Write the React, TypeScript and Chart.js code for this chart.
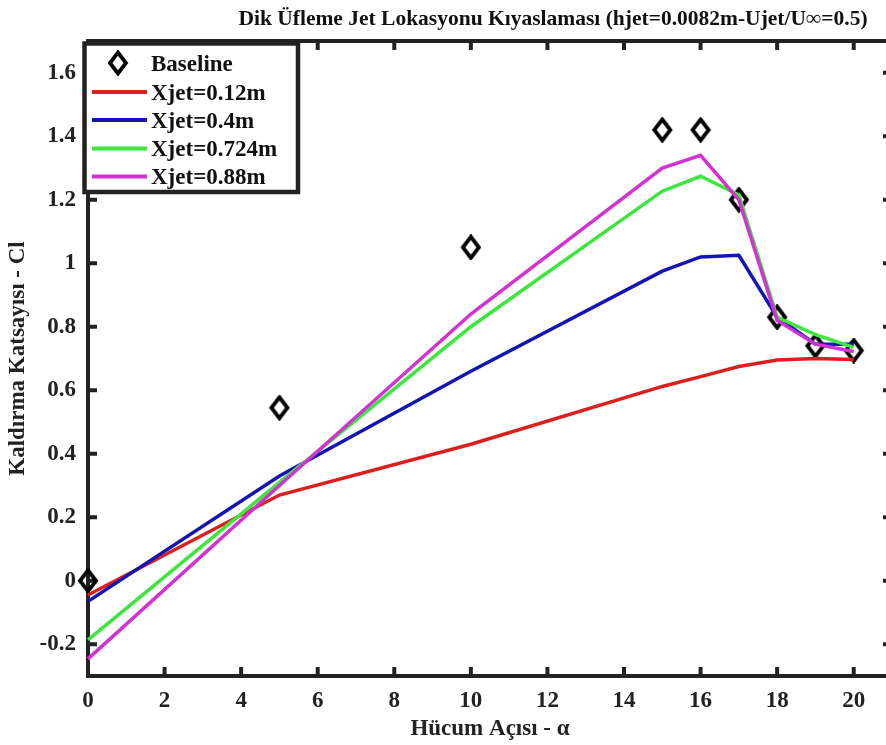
import React, { useEffect, useRef } from 'react';
import { Chart, registerables } from 'chart.js';

Chart.register(...registerables);

// ---- data ----
const alpha = [0, 5, 10, 15, 16, 17, 18, 19, 20];
const baseline = [0, 0.545, 1.05, 1.42, 1.42, 1.2, 0.83, 0.74, 0.725];
const xjet012 = [-0.045, 0.27, 0.43, 0.612, 0.643, 0.675, 0.695, 0.7, 0.697];
const xjet04 = [-0.065, 0.33, 0.66, 0.975, 1.02, 1.025, 0.83, 0.745, 0.745];
const xjet0724 = [-0.186, 0.31, 0.8, 1.227, 1.274, 1.215, 0.83, 0.775, 0.735];
const xjet088 = [-0.246, 0.3, 0.84, 1.3, 1.34, 1.2, 0.82, 0.745, 0.722];

const seriesLabels = ['Baseline', 'Xjet=0.12m', 'Xjet=0.4m', 'Xjet=0.724m', 'Xjet=0.88m'];
const seriesColors = ['#000000', '#dc1e1e', '#1414b4', '#3ce63c', '#d232d2'];

const xTicks = [0, 2, 4, 6, 8, 10, 12, 14, 16, 18, 20];
const yTicks = [-0.2, 0, 0.2, 0.4, 0.6, 0.8, 1, 1.2, 1.4, 1.6];
const xRange = [0, 21];
const yRange = [-0.3, 1.7];

const titleText = 'Dik Üfleme Jet Lokasyonu Kıyaslaması (hjet=0.0082m-Ujet/U∞=0.5)';
const xLabel = 'Hücum Açısı - α';
const yLabel = 'Kaldırma Katsayısı - Cl';

const FONT = '"Liberation Serif", "Times New Roman", serif';
const AXIS = '#222222';

function makeDiamond(): HTMLCanvasElement {
  const c = document.createElement('canvas');
  c.width = 22;
  c.height = 26;
  const g = c.getContext('2d')!;
  g.strokeStyle = '#000';
  g.lineWidth = 3.8;
  g.lineJoin = 'miter';
  g.beginPath();
  g.moveTo(11, 2.5);
  g.lineTo(19, 13);
  g.lineTo(11, 23.5);
  g.lineTo(3, 13);
  g.closePath();
  g.stroke();
  return c;
}

export default function App() {
  const ref = useRef<HTMLCanvasElement | null>(null);

  useEffect(() => {
    const canvas = ref.current;
    if (!canvas) return;
    const diamond = makeDiamond();
    const toPts = (ys: number[]) => alpha.map((a, i) => ({ x: a, y: ys[i] }));

    const decor = {
      id: 'decor',
      beforeDraw(chart: any) {
        const { ctx, width, height } = chart;
        ctx.save();
        ctx.fillStyle = '#ffffff';
        ctx.fillRect(0, 0, width, height);
        ctx.restore();
      },
      beforeDatasetsDraw(chart: any) {
        const { ctx, chartArea: a, scales } = chart;
        const xs = scales.x;
        const ys = scales.y;
        const tl = 9;
        ctx.save();
        ctx.strokeStyle = AXIS;
        ctx.lineWidth = 4;
        ctx.beginPath();
        xTicks.forEach((v) => {
          const px = xs.getPixelForValue(v);
          ctx.moveTo(px, a.bottom);
          ctx.lineTo(px, a.bottom - tl);
          ctx.moveTo(px, a.top);
          ctx.lineTo(px, a.top + tl);
        });
        yTicks.forEach((v) => {
          const py = ys.getPixelForValue(v);
          ctx.moveTo(a.left, py);
          ctx.lineTo(a.left + tl, py);
          ctx.moveTo(a.right, py);
          ctx.lineTo(a.right - tl, py);
        });
        ctx.stroke();
        ctx.strokeRect(a.left, a.top, a.right - a.left, a.bottom - a.top);
        ctx.restore();
      },
      afterDraw(chart: any) {
        const { ctx } = chart;
        ctx.save();
        // title
        ctx.fillStyle = '#111';
        ctx.font = `bold 21.5px ${FONT}`;
        ctx.textAlign = 'center';
        ctx.textBaseline = 'alphabetic';
        ctx.fillText(titleText, 553, 25);

        // legend
        const bx = 84.5, by = 43.5, bw = 213.5, bh = 148.5;
        ctx.fillStyle = '#fff';
        ctx.fillRect(bx, by, bw, bh);
        ctx.strokeStyle = AXIS;
        ctx.lineWidth = 4.5;
        ctx.strokeRect(bx, by, bw, bh);
        const rowY = [63, 92, 120, 148.5, 176.5];
        ctx.font = `bold 23px ${FONT}`;
        ctx.textAlign = 'left';
        chart.data.datasets.forEach((ds: any, i: number) => {
          const y = rowY[i];
          if (i === 0) {
            ctx.drawImage(diamond, 118 - diamond.width / 2, y - diamond.height / 2);
          } else {
            ctx.strokeStyle = ds.borderColor;
            ctx.lineWidth = 4;
            ctx.beginPath();
            ctx.moveTo(92, y);
            ctx.lineTo(147, y);
            ctx.stroke();
          }
          ctx.fillStyle = '#111';
          ctx.fillText(ds.label, 151, y + 7.8);
        });
        ctx.restore();
      },
    };

    const tickFont = { family: FONT, size: 23, weight: 'bold' as const };

    const chart = new Chart(canvas, {
      type: 'scatter',
      data: {
        datasets: [
          {
            label: seriesLabels[0],
            data: toPts(baseline),
            showLine: false,
            pointStyle: diamond,
            pointRadius: 10,
            borderColor: seriesColors[0],
            backgroundColor: 'transparent',
            clip: false,
            order: 5,
          } as any,
          ...[xjet012, xjet04, xjet0724, xjet088].map((ys, k) => ({
            label: seriesLabels[k + 1],
            data: toPts(ys),
            showLine: true,
            borderColor: seriesColors[k + 1],
            backgroundColor: seriesColors[k + 1],
            borderWidth: 3.5,
            pointRadius: 0,
            tension: 0,
            clip: false,
            order: 4 - k,
          })),
        ],
      },
      options: {
        responsive: false,
        animation: false,
        devicePixelRatio: 1,
        layout: { padding: { top: 41, right: 13, left: 0, bottom: 0 } },
        plugins: {
          legend: { display: false },
          tooltip: { enabled: false },
          title: { display: false },
        },
        scales: {
          x: {
            type: 'linear',
            min: xRange[0],
            max: xRange[1],
            afterBuildTicks: (s: any) => {
              s.ticks = xTicks.map((v) => ({ value: v }));
            },
            afterFit: (s: any) => {
              s.height = 69;
            },
            grid: { display: false, drawTicks: false },
            border: { display: false },
            ticks: {
              font: tickFont,
              color: AXIS,
              padding: 11,
              maxRotation: 0,
              autoSkip: false,
              callback: (v: any) => String(Number(Number(v).toFixed(1))),
            },
            title: {
              display: true,
              text: xLabel,
              font: tickFont,
              color: AXIS,
              padding: { top: 0, bottom: 2 },
            },
          },
          y: {
            type: 'linear',
            min: yRange[0],
            max: yRange[1],
            afterBuildTicks: (s: any) => {
              s.ticks = yTicks.map((v) => ({ value: v }));
            },
            afterFit: (s: any) => {
              s.width = 88;
            },
            grid: { display: false, drawTicks: false },
            border: { display: false },
            ticks: {
              font: tickFont,
              color: AXIS,
              padding: 12,
              autoSkip: false,
              callback: (v: any) => String(Number(Number(v).toFixed(1))),
            },
            title: {
              display: true,
              text: yLabel,
              font: tickFont,
              color: AXIS,
              padding: { top: 4, bottom: 0 },
            },
          },
        },
      },
      plugins: [decor],
    } as any);

    return () => chart.destroy();
  }, []);

  return (
    <div
      style={{
        position: 'absolute',
        left: 0,
        top: 0,
        width: 886,
        height: 745,
        overflow: 'hidden',
        background: '#fff',
      }}
    >
      <canvas ref={ref} width={905} height={745} style={{ display: 'block', width: 905, height: 745 }} />
    </div>
  );
}
